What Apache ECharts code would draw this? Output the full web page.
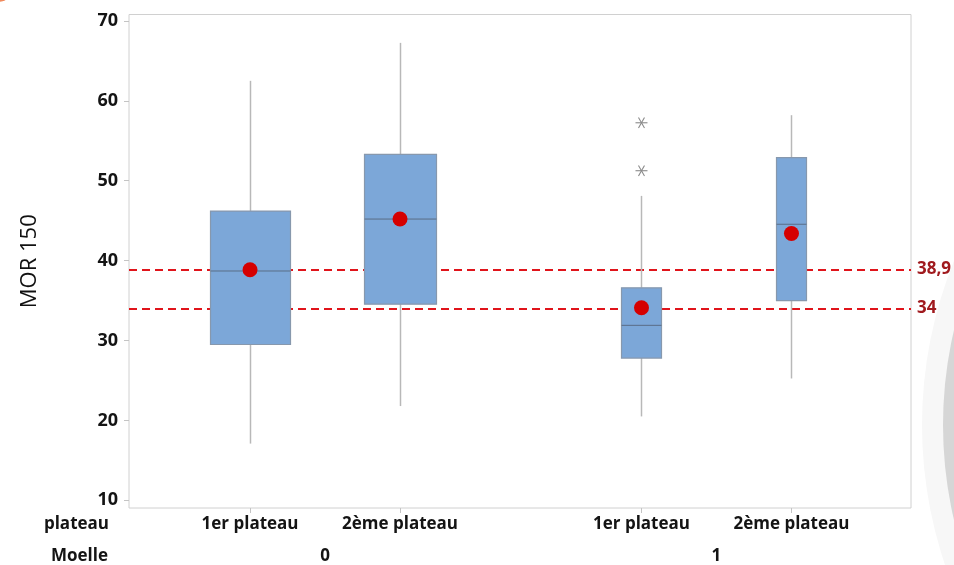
<!DOCTYPE html>
<html>
<head>
<meta charset="utf-8">
<script src="https://cdn.jsdelivr.net/npm/echarts@6/dist/echarts.min.js"></script>
<style>
  html, body { margin: 0; padding: 0; background: #ffffff; }
  #chart { width: 954px; height: 565px; }
</style>
</head>
<body>
<div id="chart"></div>
<script>
// ---------- DATA ----------
const categories   = ['1er plateau', '2ème plateau', '1er plateau', '2ème plateau'];
const moelleGroups = ['0', '1'];
const groupOfBox   = [0, 0, 1, 1];
const whiskerLow   = [17.1, 21.8, 20.5, 25.25];
const q1           = [29.5, 34.55, 27.8, 35.0];
const median       = [38.7, 45.2, 31.9, 44.55];
const q3           = [46.2, 53.3, 36.6, 52.9];
const whiskerHigh  = [62.5, 67.25, 48.1, 58.2];
const means        = [38.85, 45.2, 34.1, 43.4];
const outlierBox   = [2, 2];
const outlierValue = [57.25, 51.25];
const refLines     = [38.9, 34];
const refLabels    = ['38,9', '34'];
const yTicks       = [10, 20, 30, 40, 50, 60, 70];

// ---------- LAYOUT / STYLE ----------
const GROUP_GAP = 2.61;             // spacing between Moelle groups (axis units)
const BOX_WIDTH_PX = [80, 72, 40, 30];
const FONT = "'Open Sans', 'Noto Sans', sans-serif";
const TXT = '#141414';

const xPos = categories.map((c, i) => (i % 2) + groupOfBox[i] * GROUP_GAP);
const groupCenters = moelleGroups.map((g, gi) => {
  const xs = xPos.filter((p, i) => groupOfBox[i] === gi);
  return (xs[0] + xs[xs.length - 1]) / 2;
});
const nearestIdx = (arr, v) => {
  let best = 0;
  arr.forEach((a, i) => { if (Math.abs(a - v) < Math.abs(arr[best] - v)) best = i; });
  return best;
};

const boxData = categories.map((c, i) => [xPos[i], whiskerLow[i], q1[i], median[i], q3[i], whiskerHigh[i], i]);
const meanData = means.map((m, i) => [xPos[i], m]);
const outlierData = outlierValue.map((v, k) => [xPos[outlierBox[k]], v]);

const chart = echarts.init(document.getElementById('chart'), null, { renderer: 'canvas' });

const option = {
  backgroundColor: '#ffffff',
  animation: false,
  textStyle: { fontFamily: FONT },
  grid: {
    left: 129, right: 43, top: 14.5, bottom: 56.7,
    show: true, borderColor: '#d0d0d0', borderWidth: 1, backgroundColor: 'transparent'
  },
  xAxis: [
    {
      type: 'value', min: -0.807, max: 4.407,
      axisLine: { show: false, onZero: false },
      splitLine: { show: false },
      axisTick: { show: true, customValues: xPos, length: 5, lineStyle: { color: '#c4c4c4' } },
      axisLabel: {
        customValues: xPos, margin: 8,
        fontFamily: FONT, fontSize: 17, fontWeight: 'bold', color: TXT,
        formatter: v => categories[nearestIdx(xPos, v)]
      }
    },
    {
      type: 'value', min: -0.807, max: 4.407, position: 'bottom', offset: 32,
      axisLine: { show: false, onZero: false },
      splitLine: { show: false },
      axisTick: { show: false },
      axisLabel: {
        customValues: groupCenters, margin: 8,
        fontFamily: FONT, fontSize: 17, fontWeight: 'bold', color: TXT,
        formatter: v => moelleGroups[nearestIdx(groupCenters, v)]
      }
    }
  ],
  yAxis: {
    type: 'value', min: 9.04, max: 70.8,
    name: 'MOR 150', nameLocation: 'middle', nameGap: 88, nameRotate: 90,
    nameTextStyle: { fontFamily: FONT, fontSize: 22, color: '#111' },
    axisLine: { show: false, onZero: false },
    splitLine: { show: false },
    axisTick: { show: true, customValues: yTicks, length: 5, lineStyle: { color: '#c4c4c4' } },
    axisLabel: {
      customValues: yTicks, margin: 11,
      fontFamily: FONT, fontSize: 18, fontWeight: 'bold', color: TXT
    }
  },
  graphic: [
    { type: 'circle', shape: { cx: 1359, cy: 425, r: 437 }, style: { fill: '#f7f7f7' }, z: -10, silent: true },
    { type: 'circle', shape: { cx: 1359, cy: 425, r: 416 }, style: { fill: '#d6d6d6' }, z: -9, silent: true },
    { type: 'circle', shape: { cx: -4, cy: -22, r: 24 }, style: { fill: '#f08a5d' }, z: -9, silent: true },
    { type: 'rect', shape: { x: 129, y: 14.5, width: 782, height: 494 }, style: { fill: '#ffffff' }, z: -8, silent: true },
    { type: 'text', x: 109, y: 524, style: { text: 'plateau', fill: TXT, font: 'bold 17px ' + FONT, textAlign: 'right', textVerticalAlign: 'middle' } },
    { type: 'text', x: 108, y: 556, style: { text: 'Moelle', fill: TXT, font: 'bold 17px ' + FONT, textAlign: 'right', textVerticalAlign: 'middle' } }
  ],
  series: [
    {
      name: 'ref', type: 'line', data: [], z: 1, silent: true,
      markLine: {
        z: 1, silent: true, symbol: ['none', 'none'],
        lineStyle: { color: '#e0141b', width: 2, type: [8, 5] },
        label: {
          show: true, position: 'end', distance: 6,
          fontFamily: FONT, fontSize: 17, fontWeight: 'bold', color: '#a01a1e',
          formatter: p => refLabels[p.dataIndex]
        },
        data: refLines.map(v => ({ yAxis: v }))
      }
    },
    {
      name: 'boxes', type: 'custom', z: 3, silent: true,
      data: boxData,
      encode: { x: 0, y: [1, 2, 3, 4, 5] },
      renderItem: function (params, api) {
        const x = api.value(0);
        const idx = api.value(6);
        const w = BOX_WIDTH_PX[idx];
        const pLow = api.coord([x, api.value(1)]);
        const pQ1 = api.coord([x, api.value(2)]);
        const pMed = api.coord([x, api.value(3)]);
        const pQ3 = api.coord([x, api.value(4)]);
        const pHigh = api.coord([x, api.value(5)]);
        const cx = Math.round(pLow[0]) + 0.5;
        return {
          type: 'group',
          children: [
            { type: 'line', shape: { x1: cx, y1: pQ1[1], x2: cx, y2: pLow[1] }, style: { stroke: '#b8b8b8', lineWidth: 1.5 } },
            { type: 'line', shape: { x1: cx, y1: pQ3[1], x2: cx, y2: pHigh[1] }, style: { stroke: '#b8b8b8', lineWidth: 1.5 } },
            { type: 'rect', shape: { x: cx - w / 2, y: pQ3[1], width: w, height: pQ1[1] - pQ3[1] },
              style: { fill: '#7ca7d8', stroke: '#8798ad', lineWidth: 1.2 } },
            { type: 'line', shape: { x1: cx - w / 2, y1: pMed[1], x2: cx + w / 2, y2: pMed[1] }, style: { stroke: '#5a6d86', lineWidth: 1 } }
          ]
        };
      }
    },
    {
      name: 'outliers', type: 'custom', z: 3, silent: true,
      data: outlierData,
      encode: { x: 0, y: 1 },
      renderItem: function (params, api) {
        const p = api.coord([api.value(0), api.value(1)]);
        const r = 6;
        const dx = r * Math.cos(Math.PI / 3), dy = r * Math.sin(Math.PI / 3);
        const st = { stroke: '#8a8a8a', lineWidth: 1.1 };
        return {
          type: 'group',
          children: [
            { type: 'line', shape: { x1: p[0] - r, y1: p[1], x2: p[0] + r, y2: p[1] }, style: st },
            { type: 'line', shape: { x1: p[0] - dx, y1: p[1] - dy, x2: p[0] + dx, y2: p[1] + dy }, style: st },
            { type: 'line', shape: { x1: p[0] - dx, y1: p[1] + dy, x2: p[0] + dx, y2: p[1] - dy }, style: st }
          ]
        };
      }
    },
    {
      name: 'mean', type: 'scatter', z: 5, silent: true,
      data: meanData, symbol: 'circle', symbolSize: 15,
      itemStyle: { color: '#d50000', opacity: 1 }
    }
  ]
};

chart.setOption(option);
</script>
</body>
</html>
